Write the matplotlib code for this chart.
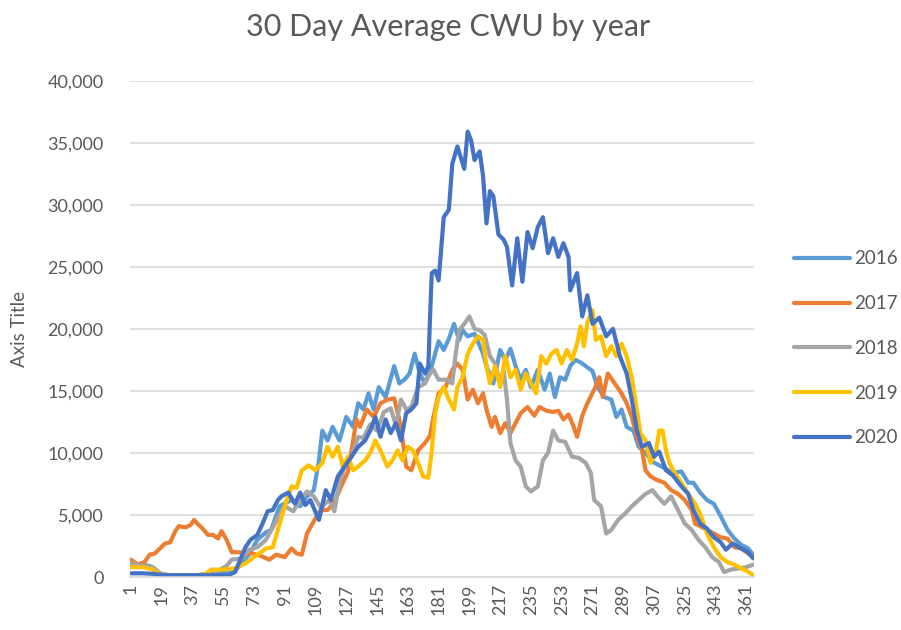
import matplotlib
matplotlib.use("Agg")
from matplotlib import pyplot as plt

# (day, value) samples for each year
d2016 = [1, 6, 12, 16, 20, 30, 40, 50, 58, 64, 70, 75, 80, 83, 88, 92, 95, 100, 104, 108, 111, 113, 116, 119, 123, 127, 131, 134, 137, 140, 143, 146, 150, 155, 158, 161, 164, 167, 170, 173, 177, 181, 184, 187, 190, 193, 195, 198, 202, 207, 209, 213, 217, 220, 223, 226, 229, 232, 235, 239, 243, 246, 249, 252, 255, 258, 261, 264, 268, 271, 274, 278, 282, 285, 288, 291, 295, 298, 302, 306, 310, 314, 318, 323, 327, 330, 334, 338, 342, 346, 350, 354, 358, 362, 365]
v2016 = [1000, 1000, 900, 400, 150, 100, 150, 300, 500, 800, 1800, 3000, 3600, 3800, 5700, 6000, 6200, 5700, 6500, 7000, 9400, 11800, 11000, 12100, 11000, 12900, 12100, 14000, 13500, 14800, 13500, 15300, 14500, 17000, 15600, 15900, 16400, 18000, 16400, 15600, 17000, 19000, 18300, 19200, 20400, 19100, 19900, 19400, 19600, 18000, 17000, 15600, 18300, 17500, 18400, 17000, 15900, 16700, 15300, 16700, 15100, 16400, 14500, 16100, 15900, 17000, 17500, 17300, 16900, 16600, 15300, 14500, 14300, 12900, 13500, 12100, 11800, 10500, 10000, 9300, 9000, 8700, 8400, 8500, 7600, 7600, 6800, 6200, 5900, 4900, 3800, 3100, 2600, 2300, 1800]

d2017 = [1, 5, 9, 12, 15, 18, 21, 24, 27, 29, 33, 36, 38, 40, 43, 46, 49, 52, 54, 57, 60, 64, 68, 72, 77, 82, 86, 91, 95, 98, 101, 104, 108, 112, 116, 120, 124, 128, 131, 133, 135, 139, 143, 147, 151, 155, 158, 160, 162, 165, 169, 173, 176, 178, 181, 185, 189, 192, 195, 198, 201, 204, 207, 209, 212, 214, 217, 220, 223, 226, 229, 233, 237, 240, 244, 248, 251, 254, 257, 260, 262, 265, 268, 272, 275, 277, 280, 284, 288, 291, 294, 297, 300, 302, 305, 309, 313, 317, 321, 325, 329, 331, 334, 338, 342, 346, 350, 354, 358, 362, 365]
v2017 = [1400, 1000, 1200, 1800, 1900, 2300, 2700, 2800, 3700, 4100, 4000, 4200, 4600, 4300, 3900, 3400, 3400, 3100, 3700, 3000, 2000, 2000, 1900, 1900, 1700, 1400, 1800, 1600, 2300, 1900, 1800, 3500, 4500, 5400, 5400, 6000, 7300, 8500, 11000, 12700, 12100, 13500, 12900, 14000, 14300, 14400, 12700, 11000, 8900, 8600, 10200, 10800, 11400, 12900, 14800, 15300, 16700, 17200, 16700, 14300, 15100, 14000, 14800, 13500, 12100, 12900, 11600, 12400, 11600, 12400, 13200, 13700, 13000, 13700, 13400, 13300, 13400, 12700, 13100, 12100, 11300, 13000, 14000, 15100, 16100, 14500, 16400, 15600, 14800, 14000, 12900, 11300, 10200, 8600, 8100, 7800, 7600, 7000, 6700, 6200, 5400, 4300, 4100, 3800, 3500, 3200, 3100, 2400, 2300, 1900, 1600]

d2018 = [1, 8, 14, 18, 25, 35, 45, 52, 57, 60, 66, 70, 75, 80, 84, 88, 91, 96, 100, 104, 108, 112, 117, 120, 123, 126, 130, 134, 137, 141, 145, 149, 153, 156, 159, 162, 165, 169, 173, 176, 178, 181, 183, 186, 189, 191, 193, 196, 199, 202, 205, 208, 211, 214, 217, 219, 221, 223, 226, 229, 232, 235, 239, 242, 245, 248, 251, 255, 259, 263, 267, 270, 272, 276, 279, 282, 286, 290, 294, 298, 302, 306, 309, 313, 317, 321, 325, 329, 333, 337, 341, 345, 348, 352, 357, 361, 365]
v2018 = [1100, 900, 800, 300, 100, 100, 200, 500, 900, 1400, 1500, 2200, 2400, 3000, 4000, 5000, 5700, 5300, 6200, 6900, 6500, 5600, 6200, 5300, 7600, 8900, 9700, 11300, 11200, 12300, 11800, 13300, 13600, 12200, 14300, 13500, 13700, 15300, 15600, 16400, 16700, 15900, 15900, 15900, 15600, 18000, 19900, 20400, 21000, 20000, 19900, 19500, 17800, 17200, 15600, 16700, 14300, 10800, 9400, 8900, 7300, 6900, 7300, 9400, 10000, 11800, 11000, 10900, 9700, 9600, 9200, 8400, 6200, 5700, 3500, 3800, 4600, 5100, 5700, 6200, 6700, 7000, 6500, 5900, 6500, 5400, 4300, 3800, 3000, 2400, 1600, 1200, 400, 600, 700, 800, 1000]

d2019 = [1, 8, 14, 18, 25, 35, 44, 48, 55, 62, 68, 72, 76, 80, 84, 87, 91, 95, 98, 101, 105, 109, 113, 116, 119, 122, 125, 128, 131, 134, 138, 141, 144, 147, 151, 154, 157, 160, 163, 166, 169, 172, 175, 177, 179, 181, 184, 187, 190, 192, 195, 198, 201, 204, 207, 209, 211, 214, 217, 220, 223, 226, 229, 232, 235, 238, 241, 244, 247, 250, 253, 256, 259, 262, 264, 266, 268, 271, 273, 276, 279, 282, 285, 288, 291, 294, 296, 299, 302, 305, 308, 310, 312, 314, 316, 319, 323, 327, 331, 334, 338, 342, 346, 350, 354, 358, 362, 365]
v2019 = [800, 800, 600, 200, 100, 100, 200, 600, 600, 700, 1100, 1500, 1900, 2300, 2400, 3800, 5700, 7300, 7200, 8600, 9000, 8600, 9200, 10500, 9700, 10500, 8900, 9700, 8600, 8900, 9400, 10000, 11000, 10200, 8900, 9400, 10200, 9400, 10500, 10200, 9200, 8100, 8000, 10200, 13200, 14500, 15300, 14300, 13500, 15300, 16100, 18000, 18800, 19400, 19100, 17000, 15600, 17000, 15300, 17800, 16100, 16700, 15100, 16400, 15600, 14800, 17800, 17200, 18000, 18300, 17200, 18300, 17500, 18800, 20200, 18600, 20500, 21500, 19100, 19400, 17800, 18600, 17800, 18800, 17800, 16100, 14300, 11600, 11000, 9200, 10000, 11800, 11800, 10200, 9200, 8400, 7600, 6700, 5900, 5100, 3500, 2400, 1600, 1200, 1000, 700, 430, 150]

d2020 = [1, 8, 15, 20, 30, 40, 50, 58, 62, 65, 68, 71, 75, 78, 81, 84, 87, 89, 93, 97, 100, 103, 106, 111, 115, 118, 122, 126, 130, 134, 138, 141, 144, 147, 150, 153, 156, 159, 162, 165, 168, 170, 173, 175, 176, 177, 179, 181, 184, 187, 189, 192, 196, 198, 200, 202, 205, 207, 209, 211, 213, 216, 219, 221, 224, 227, 230, 233, 236, 239, 242, 245, 248, 251, 254, 257, 258, 262, 265, 268, 271, 275, 279, 283, 287, 291, 294, 297, 300, 304, 307, 310, 314, 318, 323, 327, 330, 334, 338, 342, 346, 349, 353, 358, 362, 365]
v2020 = [300, 300, 250, 150, 150, 150, 150, 150, 400, 1400, 2400, 3000, 3400, 4300, 5300, 5400, 6200, 6500, 6800, 5900, 6800, 5800, 6200, 4600, 7000, 6200, 8100, 8900, 9700, 10500, 11000, 11800, 12900, 11300, 12700, 11600, 12400, 11000, 13200, 13500, 14000, 17200, 16400, 17000, 21000, 24500, 24700, 23900, 29000, 29600, 33300, 34700, 32900, 35900, 35200, 33600, 34300, 32300, 28500, 31100, 30700, 27600, 27200, 26600, 23500, 27300, 23800, 27800, 26500, 28200, 29000, 26100, 27300, 25800, 26900, 25800, 23100, 24500, 21000, 22700, 20400, 20900, 19400, 20000, 17800, 16400, 14300, 11800, 10500, 10800, 9700, 10100, 8600, 8200, 7300, 6700, 5400, 4300, 3900, 3200, 2800, 2200, 2700, 2300, 2000, 1500]

years = ["2016", "2017", "2018", "2019", "2020"]
colors = ["#5B9BD5", "#ED7D31", "#A5A5A5", "#FFC000", "#4472C4"]
series = [(d2016, v2016), (d2017, v2017), (d2018, v2018), (d2019, v2019), (d2020, v2020)]

plt.rcParams['font.family'] = ['Lato', 'DejaVu Sans']
txt = "#595959"
grid = "#D9D9D9"

fig = plt.figure(figsize=(9.01, 6.30), dpi=100)
ax = fig.add_axes([0.1443, 0.0841, 0.6926, 0.7878])

for (d, v), yr, c in zip(series, years, colors):
    ax.plot(d, v, color=c, lw=3.0, label=yr, solid_joinstyle="round", solid_capstyle="round")

ax.set_xlim(0.5, 365.5)
ax.set_ylim(0, 40000)
ax.set_yticks(range(0, 40001, 5000))
ax.set_yticklabels(["0"] + ["{:,}".format(t) for t in range(5000, 40001, 5000)])
ax.set_xticks(range(1, 366, 18))
ax.set_xticklabels([str(t) for t in range(1, 366, 18)], rotation=90)
ax.tick_params(axis="both", length=0, colors=txt, labelsize=13)
ax.tick_params(axis="y", pad=19)
ax.tick_params(axis="x", pad=5)
ax.grid(axis="y", color=grid, lw=1.2)
ax.set_axisbelow(True)
for s in ["left", "right", "top"]:
    ax.spines[s].set_visible(False)
ax.spines["bottom"].set_color(grid)
ax.spines["bottom"].set_linewidth(1.2)

ax.set_ylabel("Axis Title", color=txt, fontsize=13.5)
ax.yaxis.set_label_coords(-0.163, 0.5)
fig.text(0.497, 0.957, "30 Day Average CWU by year", color=txt, fontsize=22,
         ha="center", va="center")

fig.legend(loc="center left", bbox_to_anchor=(0.862, 0.447), frameon=False,
           fontsize=13.5, labelcolor=txt, handlelength=3.0, labelspacing=1.48,
           handletextpad=0.25)

plt.savefig("out.png", dpi=100)
